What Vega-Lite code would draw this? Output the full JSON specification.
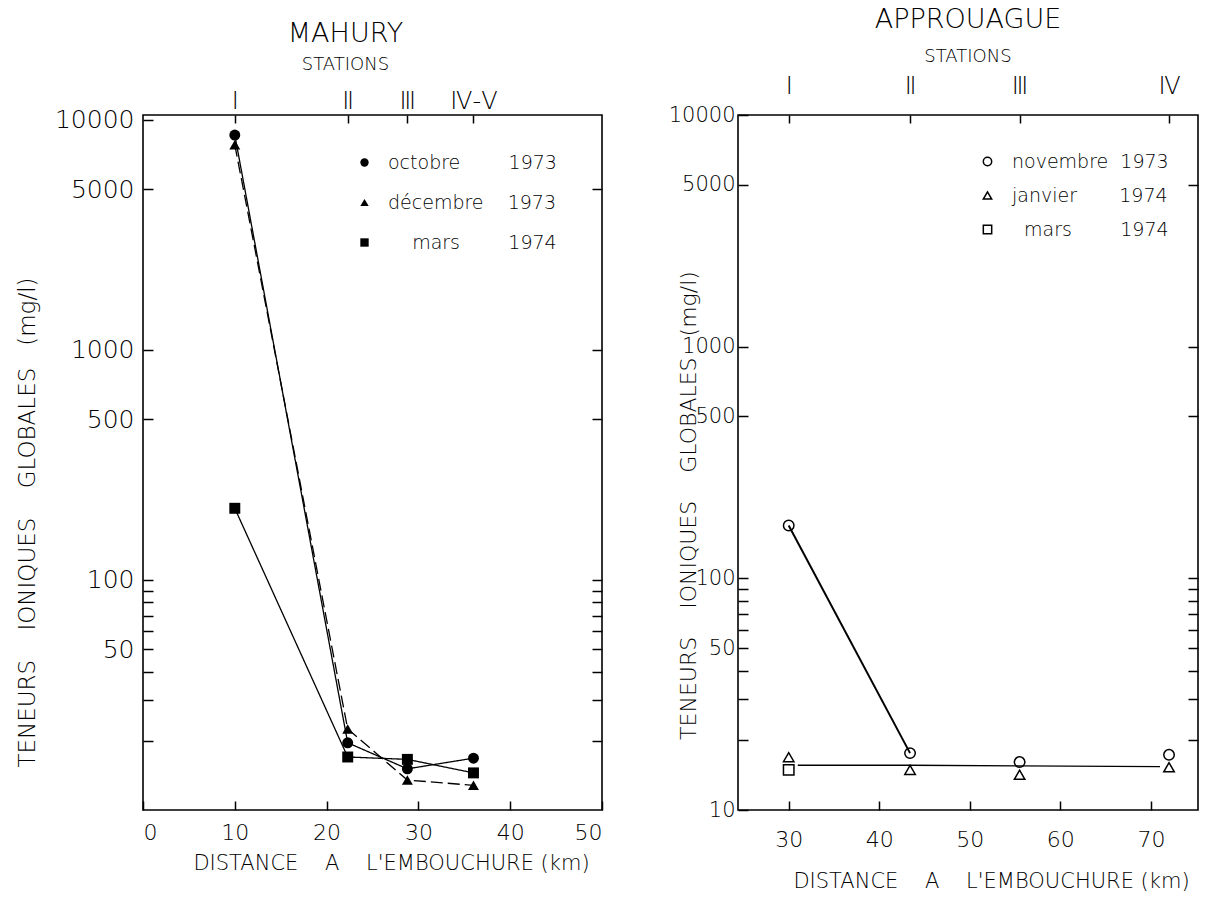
{
  "$schema": "https://vega.github.io/schema/vega-lite/v6.json",
  "background": "white",
  "padding": {"left": 15, "top": 5, "right": 5, "bottom": 5},
  "spacing": 63,
  "config": {
    "font": "DejaVu Sans",
    "view": {"stroke": "black", "strokeWidth": 1.6},
    "axis": {
      "grid": false,
      "domain": false,
      "tickColor": "black",
      "tickWidth": 1.5,
      "labelColor": "black",
      "titleColor": "black",
      "labelFont": "DejaVu Sans",
      "titleFont": "DejaVu Sans",
      "titleFontWeight": 300,
      "labelFontWeight": 300
    },
    "legend": {
      "labelFont": "DejaVu Sans",
      "labelFontSize": 19,
      "labelFontWeight": 300,
      "labelColor": "black",
      "labelLimit": 400,
      "symbolStrokeColor": "black",
      "padding": 0
    },
    "title": {"color": "black", "subtitleColor": "black"}
  },
  "datasets": {
    "mahury": [
      {"serie": "octobre 1973", "distance": 10, "teneur": 8600},
      {"serie": "octobre 1973", "distance": 22.3, "teneur": 19.6},
      {"serie": "octobre 1973", "distance": 28.8, "teneur": 15.1},
      {"serie": "octobre 1973", "distance": 36, "teneur": 16.8},
      {"serie": "décembre 1973", "distance": 10, "teneur": 7800},
      {"serie": "décembre 1973", "distance": 22.3, "teneur": 22.5},
      {"serie": "décembre 1973", "distance": 28.8, "teneur": 13.5},
      {"serie": "décembre 1973", "distance": 36, "teneur": 12.8},
      {"serie": "mars 1974", "distance": 10, "teneur": 205},
      {"serie": "mars 1974", "distance": 22.3, "teneur": 17.0},
      {"serie": "mars 1974", "distance": 28.8, "teneur": 16.6},
      {"serie": "mars 1974", "distance": 36, "teneur": 14.5}
    ],
    "approuague": [
      {"serie": "novembre 1973", "distance": 30, "teneur": 169},
      {"serie": "novembre 1973", "distance": 43.4, "teneur": 17.6},
      {"serie": "novembre 1973", "distance": 55.5, "teneur": 16.1},
      {"serie": "novembre 1973", "distance": 72, "teneur": 17.3},
      {"serie": "janvier 1974", "distance": 30, "teneur": 16.9},
      {"serie": "janvier 1974", "distance": 43.4, "teneur": 14.9},
      {"serie": "janvier 1974", "distance": 55.5, "teneur": 14.2},
      {"serie": "janvier 1974", "distance": 72, "teneur": 15.3},
      {"serie": "mars 1974", "distance": 30, "teneur": 14.9}
    ],
    "approuague_trait": [
      {"distance": 31, "teneur": 15.6},
      {"distance": 43.4, "teneur": 15.6},
      {"distance": 55.5, "teneur": 15.5},
      {"distance": 71, "teneur": 15.4}
    ]
  },
  "resolve": {"scale": {"shape": "independent"}, "legend": {"shape": "independent"}},
  "hconcat": [
    {
      "width": 459,
      "height": 695,
      "title": {
        "text": "MAHURY",
        "subtitle": "STATIONS",
        "font": "DejaVu Sans",
        "fontSize": 27,
        "fontWeight": 300,
        "subtitleFont": "DejaVu Sans",
        "subtitleFontSize": 18,
        "subtitleFontWeight": 300,
        "subtitlePadding": 8,
        "offset": 14,
        "dx": -27
      },
      "data": {"name": "mahury"},
      "layer": [
        {
          "mark": {"type": "line", "color": "black", "strokeWidth": 1.3},
          "encoding": {
            "x": {
              "field": "distance", "type": "quantitative",
              "scale": {"domain": [0, 50], "nice": false, "zero": false},
              "axis": {
                "orient": "bottom",
                "values": [0, 10, 20, 30, 40, 50],
                "tickSize": -9,
                "labelPadding": 21,
                "labelFontSize": 22,
                "title": "DISTANCE\u00a0\u00a0\u00a0 A\u00a0\u00a0\u00a0 L'EMBOUCHURE (km)",
                "titleFontSize": 21,
                "titlePadding": 9,
                "titleX": 248
              }
            },
            "y": {
              "field": "teneur", "type": "quantitative",
              "scale": {"type": "log", "domain": [10, 10513], "nice": false},
              "axis": {
                "orient": "left",
                "values": [10000, 5000, 1000, 500, 100, 90, 80, 70, 60, 50, 40, 30, 20],
                "labelExpr": "indexof([10000, 5000, 1000, 500, 100, 50], datum.value) >= 0 ? '' + datum.value : ''",
                "tickSize": -10,
                "labelPadding": 19,
                "labelFontSize": 25,
                "title": "TENEURS\u00a0\u00a0\u00a0 IONIQUES\u00a0\u00a0\u00a0 GLOBALES\u00a0\u00a0 (mg/l)",
                "titleFontSize": 23,
                "titleX": -104,
                "titleY": 407
              }
            },
            "strokeDash": {
              "field": "serie", "type": "nominal",
              "scale": {"domain": ["octobre 1973", "décembre 1973", "mars 1974"], "range": [[1, 0], [12, 5], [1, 0]]},
              "legend": null
            }
          }
        },
        {
          "mark": {"type": "point", "filled": true, "color": "black", "size": 120, "opacity": 1},
          "encoding": {
            "x": {
              "field": "distance", "type": "quantitative",
              "axis": {
                "orient": "top",
                "values": [10, 22.3, 28.8, 36],
                "labelExpr": "datum.value == 10 ? '\u2160' : datum.value == 22.3 ? '\u2161' : datum.value == 28.8 ? '\u2162' : '\u2163-\u2164'",
                "labelFont": "DejaVu Sans",
                "labelFontSize": 24,
                "tickSize": -8,
                "labelPadding": 10,
                "title": null
              }
            },
            "y": {
              "field": "teneur", "type": "quantitative",
              "axis": {
                "orient": "right",
                "values": [5000, 1000, 500, 100, 90, 80, 70, 60, 50, 40, 30, 20],
                "labels": false,
                "tickSize": -10,
                "title": null
              }
            },
            "shape": {
              "field": "serie", "type": "nominal",
              "scale": {"domain": ["octobre 1973", "décembre 1973", "mars 1974"], "range": ["circle", "triangle-up", "square"]},
              "legend": {
                "orient": "none",
                "legendX": 212,
                "legendY": 38,
                "title": null,
                "symbolSize": 70,
                "symbolFillColor": "black",
                "rowPadding": 20,
                "labelOffset": 14,
                "labelExpr": "datum.value == 'octobre 1973' ? 'octobre\u00a0\u00a0\u00a0\u00a0\u00a0\u00a0\u00a0 1973' : datum.value == 'décembre 1973' ? 'décembre\u00a0\u00a0\u00a0 1973' : '\u200b\u00a0\u00a0\u00a0 mars\u00a0\u00a0\u00a0\u00a0\u00a0\u00a0\u00a0 1974'"
              }
            }
          }
        }
      ],
      "resolve": {"axis": {"x": "independent", "y": "independent"}}
    },
    {
      "width": 460,
      "height": 695,
      "title": {
        "text": "APPROUAGUE",
        "subtitle": "STATIONS",
        "font": "DejaVu Sans",
        "fontSize": 27,
        "fontWeight": 300,
        "subtitleFont": "DejaVu Sans",
        "subtitleFontSize": 18,
        "subtitleFontWeight": 300,
        "subtitlePadding": 14,
        "offset": 7
      },
      "layer": [
        {
          "data": {"name": "approuague"},
          "transform": [{"filter": "datum.serie == 'novembre 1973' && datum.distance < 44"}],
          "mark": {"type": "line", "color": "black", "strokeWidth": 2},
          "encoding": {
            "x": {
              "field": "distance", "type": "quantitative",
              "scale": {"domain": [24.4, 75.2], "nice": false, "zero": false},
              "axis": {
                "orient": "bottom",
                "values": [30, 40, 50, 60, 70],
                "tickSize": -9,
                "labelPadding": 28,
                "labelFontSize": 22,
                "title": "DISTANCE\u00a0\u00a0\u00a0 A\u00a0\u00a0\u00a0 L'EMBOUCHURE (km)",
                "titleFontSize": 21,
                "titlePadding": 20,
                "titleX": 253
              }
            },
            "y": {
              "field": "teneur", "type": "quantitative",
              "scale": {"type": "log", "domain": [10, 10000], "nice": false},
              "axis": {
                "orient": "left",
                "values": [10000, 5000, 1000, 500, 100, 90, 80, 70, 60, 50, 40, 30, 20, 10],
                "labelExpr": "indexof([10000, 5000, 1000, 500, 100, 50, 10], datum.value) >= 0 ? '' + datum.value : ''",
                "tickSize": -10,
                "labelPadding": 13,
                "labelFontSize": 21,
                "title": "TENEURS\u00a0\u00a0\u00a0 IONIQUES\u00a0\u00a0\u00a0 GLOBALES\u00a0\u00a0 (mg/l)",
                "titleFontSize": 22,
                "titleX": -38,
                "titleY": 390
              }
            }
          }
        },
        {
          "data": {"name": "approuague_trait"},
          "mark": {"type": "line", "color": "black", "strokeWidth": 1.3},
          "encoding": {
            "x": {"field": "distance", "type": "quantitative", "axis": null},
            "y": {"field": "teneur", "type": "quantitative", "axis": null}
          }
        },
        {
          "data": {"name": "approuague"},
          "mark": {"type": "point", "filled": false, "color": "black", "size": 110, "strokeWidth": 1.5, "opacity": 1},
          "encoding": {
            "x": {
              "field": "distance", "type": "quantitative",
              "axis": {
                "orient": "top",
                "values": [30, 43.4, 55.5, 72],
                "labelExpr": "datum.value == 30 ? '\u2160' : datum.value == 43.4 ? '\u2161' : datum.value == 55.5 ? '\u2162' : '\u2163'",
                "labelFont": "DejaVu Sans",
                "labelFontSize": 24,
                "tickSize": -8,
                "labelPadding": 25,
                "title": null
              }
            },
            "y": {
              "field": "teneur", "type": "quantitative",
              "axis": {
                "orient": "right",
                "values": [5000, 1000, 500, 100, 90, 80, 70, 60, 50, 40, 30, 20],
                "labels": false,
                "tickSize": -10,
                "title": null
              }
            },
            "shape": {
              "field": "serie", "type": "nominal",
              "scale": {"domain": ["novembre 1973", "janvier 1974", "mars 1974"], "range": ["circle", "triangle-up", "square"]},
              "legend": {
                "orient": "none",
                "legendX": 240,
                "legendY": 37,
                "title": null,
                "symbolSize": 70,
                "rowPadding": 14,
                "labelOffset": 15,
                "labelExpr": "datum.value == 'novembre 1973' ? 'novembre\u00a0 1973' : datum.value == 'janvier 1974' ? 'janvier\u00a0\u00a0\u00a0\u00a0\u00a0\u00a0 1974' : '\u200b\u00a0 mars\u00a0\u00a0\u00a0\u00a0\u00a0\u00a0\u00a0 1974'"
              }
            }
          }
        }
      ],
      "resolve": {"axis": {"x": "independent", "y": "independent"}}
    }
  ]
}
